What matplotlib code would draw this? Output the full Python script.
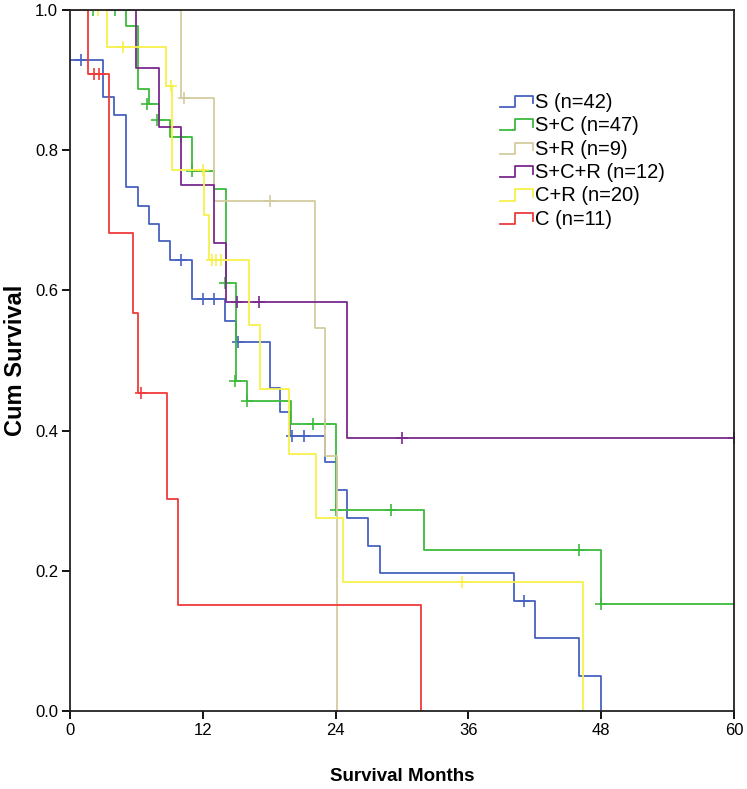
import matplotlib
matplotlib.use("Agg")
import matplotlib.pyplot as plt
from matplotlib.legend_handler import HandlerBase
from matplotlib.lines import Line2D

plt.rcParams['font.family'] = ['Liberation Sans', 'DejaVu Sans']

# ---- data ----
groups = ["S (n=42)", "S+C (n=47)", "S+R (n=9)", "S+C+R (n=12)", "C+R (n=20)", "C (n=11)"]
colors = ["#4662c0", "#3cba3c", "#d3cb9f", "#7a2a8e", "#f7f04a", "#f03a3a"]

s_t = [0, 3.0, 4.0, 5.1, 6.1, 7.1, 8.0, 9.0, 11.0, 14.0, 15.0, 18.1, 19.0, 19.9, 23.0, 24.1,
       25.0, 26.9, 28.0, 40.1, 42.0, 46.0, 48.0]
s_s = [0.929, 0.876, 0.850, 0.748, 0.721, 0.695, 0.670, 0.644, 0.588, 0.557, 0.526, 0.461,
       0.426, 0.393, 0.355, 0.315, 0.275, 0.235, 0.197, 0.157, 0.104, 0.050, 0.0]
s_ct = [1.0, 10.0, 12.0, 13.0, 15.2, 20.1, 21.1, 41.0]
s_cs = [0.929, 0.644, 0.588, 0.588, 0.526, 0.393, 0.393, 0.157]

sc_t = [0, 5.1, 6.1, 7.1, 8.0, 9.0, 11.0, 13.0, 14.1, 15.0, 16.0, 20.0, 24.0, 32.0, 48.0, 60.0]
sc_s = [1.0, 0.977, 0.887, 0.866, 0.843, 0.819, 0.771, 0.745, 0.611, 0.471, 0.442, 0.410,
        0.287, 0.229, 0.152, 0.152]
sc_ct = [2.1, 4.1, 7.0, 7.9, 10.0, 11.0, 14.0, 14.9, 16.0, 22.0, 23.0, 24.0, 29.0, 46.0, 48.0]
sc_cs = [1.0, 1.0, 0.866, 0.843, 0.819, 0.771, 0.611, 0.471, 0.442, 0.410, 0.410, 0.287,
         0.287, 0.229, 0.152]

sr_t = [0, 10.0, 13.0, 22.1, 23.0, 24.1]
sr_s = [1.0, 0.875, 0.728, 0.546, 0.364, 0.0]
sr_ct = [10.3, 18.1]
sr_cs = [0.875, 0.728]

scr_t = [0, 6.0, 8.0, 10.0, 13.0, 14.1, 25.0, 60.0]
scr_s = [1.0, 0.917, 0.833, 0.750, 0.667, 0.583, 0.389, 0.389]
scr_ct = [15.1, 17.1, 30.0, 60.0]
scr_cs = [0.583, 0.583, 0.389, 0.389]

cr_t = [0, 3.3, 8.7, 9.2, 12.1, 12.6, 16.2, 17.2, 19.8, 22.2, 24.7, 46.4]
cr_s = [1.0, 0.947, 0.891, 0.772, 0.708, 0.643, 0.551, 0.459, 0.367, 0.275, 0.184, 0.0]
cr_ct = [2.5, 4.8, 9.1, 12.0, 12.8, 13.2, 13.6, 35.4]
cr_cs = [1.0, 0.947, 0.891, 0.772, 0.643, 0.643, 0.643, 0.184]

c_t = [0, 1.6, 3.5, 5.7, 6.1, 8.8, 9.8, 31.7]
c_s = [1.0, 0.909, 0.682, 0.568, 0.454, 0.303, 0.151, 0.0]
c_ct = [2.2, 2.6, 6.4]
c_cs = [0.909, 0.909, 0.454]

x_ticks = [0, 12, 24, 36, 48, 60]
y_ticks = [0.0, 0.2, 0.4, 0.6, 0.8, 1.0]
y_ticklabels = ["0.0", "0.2", "0.4", "0.6", "0.8", "1.0"]

series = [(s_t, s_s, s_ct, s_cs), (sc_t, sc_s, sc_ct, sc_cs), (sr_t, sr_s, sr_ct, sr_cs),
          (scr_t, scr_s, scr_ct, scr_cs), (cr_t, cr_s, cr_ct, cr_cs), (c_t, c_s, c_ct, c_cs)]


class StepHandler(HandlerBase):
    def create_artists(self, legend, orig_handle, xdescent, ydescent, width, height,
                       fontsize, trans):
        x0 = -xdescent
        y0 = -ydescent
        xs = [x0, x0 + 0.45 * width, x0 + 0.45 * width, x0 + width, x0 + width]
        ys = [y0 + 0.05 * height, y0 + 0.05 * height, y0 + 0.85 * height, y0 + 0.85 * height,
              y0 + 0.3 * height]
        ln = Line2D(xs, ys, color=orig_handle.get_color(), lw=orig_handle.get_linewidth(),
                    transform=trans)
        return [ln]


fig = plt.figure(figsize=(7.47, 7.89), dpi=100)
ax = fig.add_axes([70 / 747, 1 - 711 / 789, 664 / 747, 701 / 789])

handles = []
for (t, s, ct, cs), col, lab in zip(series, colors, groups):
    ln, = ax.step(t, s, where='post', color=col, lw=1.3, label=lab)
    ax.plot(ct, cs, linestyle='none', marker='+', markersize=8, markeredgewidth=1.2, color=col)
    handles.append(ln)

ax.set_xlim(0, 60)
ax.set_ylim(0, 1.0)
ax.set_xticks(x_ticks)
ax.set_xticklabels([str(v) for v in x_ticks])
ax.set_yticks(y_ticks)
ax.set_yticklabels(y_ticklabels)
ax.tick_params(direction='out', length=6, width=1.3, labelsize=12, pad=2.5, colors='black')
for sp in ax.spines.values():
    sp.set_linewidth(1.3)
    sp.set_color('#222222')

ax.set_xlabel("Survival Months", fontsize=13.5, fontweight='bold', labelpad=22)
ax.set_ylabel("Cum Survival", fontsize=17, fontweight='bold', labelpad=6)

ax.legend(handles=handles, handler_map={Line2D: StepHandler()}, loc='upper left',
          bbox_to_anchor=(0.647, 0.882), frameon=False, fontsize=14.5,
          handlelength=1.65, handleheight=0.7, handletextpad=0.12, labelspacing=0.22,
          borderaxespad=0, borderpad=0)

fig.savefig("out.png", dpi=100)
